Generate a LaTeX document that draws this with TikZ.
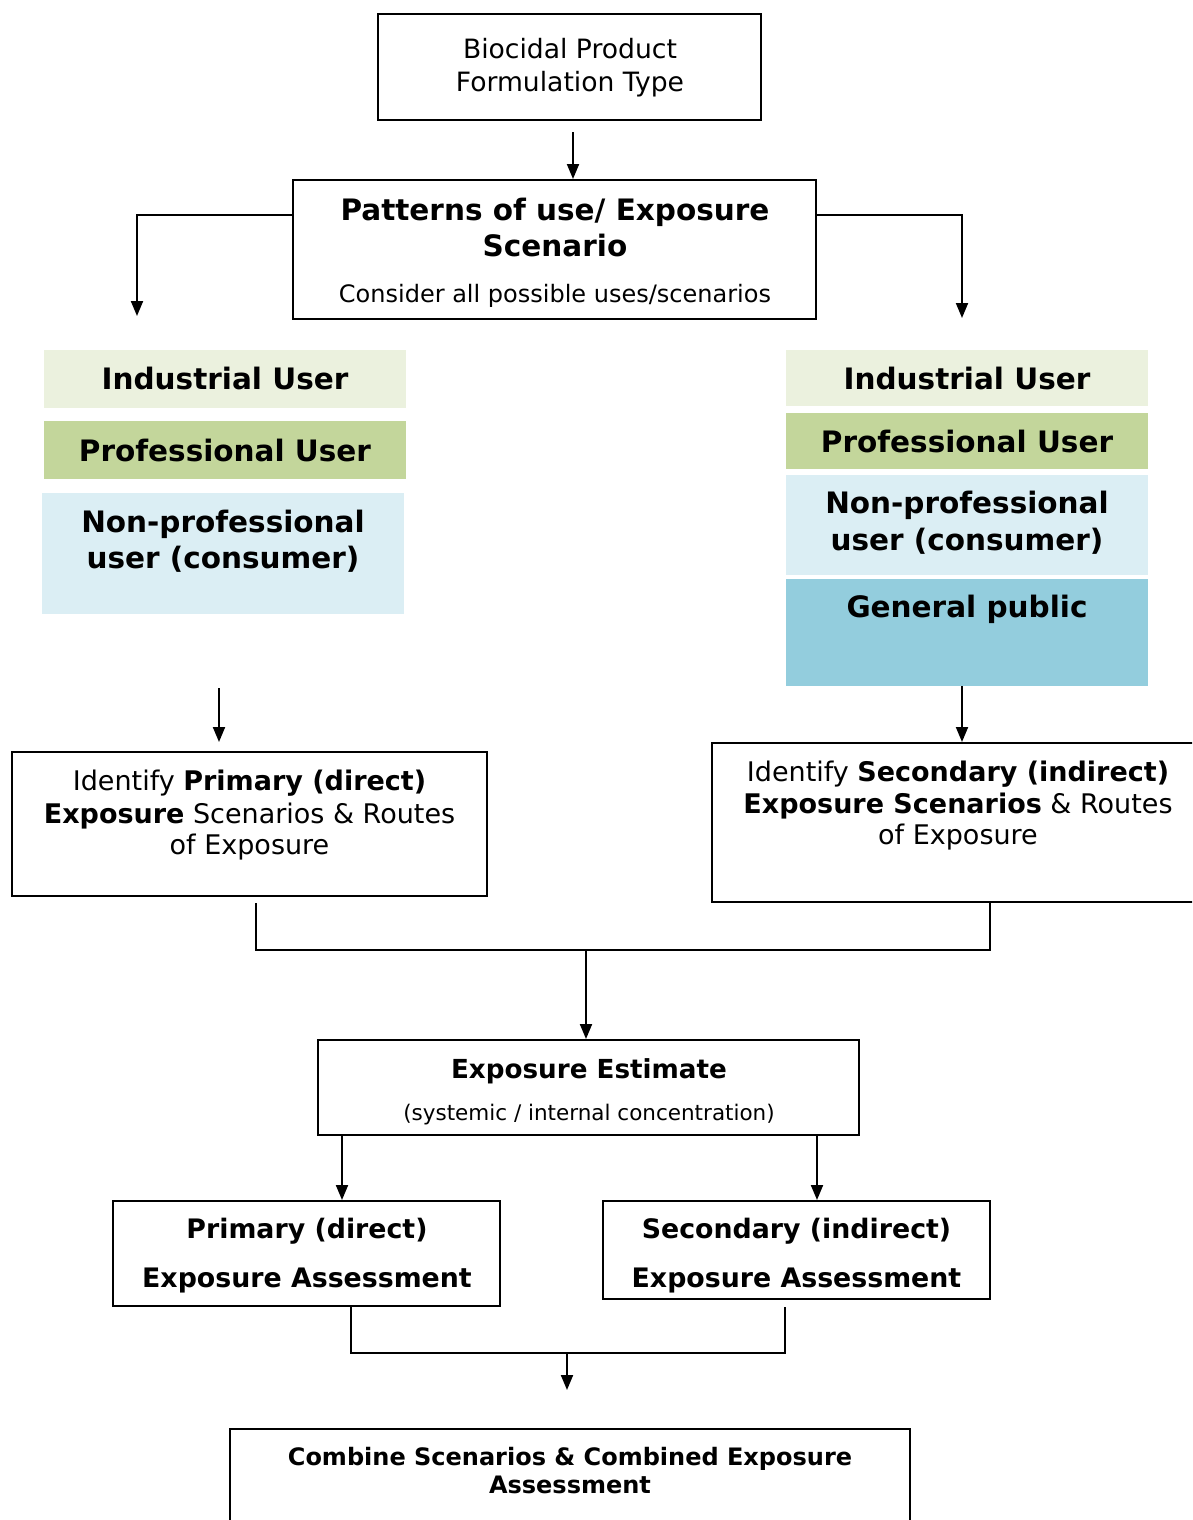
\documentclass[tikz,border=0pt]{standalone}
\usepackage{fontspec}
\setmainfont{DejaVu Sans}
\usetikzlibrary{arrows.meta}
\definecolor{indgreen}{HTML}{EBF1DE}
\definecolor{progreen}{HTML}{C3D69B}
\definecolor{nonblue}{HTML}{DBEEF4}
\definecolor{genblue}{HTML}{93CDDD}
\newcommand\myfs[1]{\fontsize{#1}{#1}\selectfont}
\begin{document}
\begin{tikzpicture}[x=1pt,y=-1pt,
  box/.style={draw=black, line width=2pt, inner sep=0pt, fill=white},
  band/.style={draw=none, inner sep=0pt},
  conn/.style={line width=2pt},
  arr/.style={conn, -{Triangle[length=15pt,width=12pt]}},
  ln/.style={anchor=base, inner sep=0pt},
  hd/.style={ln, font=\myfs{29.5}\bfseries},
  rg/.style={ln, font=\myfs{26.6}},
  idt/.style={ln, font=\myfs{27}},
]
\useasboundingbox (0,0) rectangle (1192,1520);
\clip (0,0) rectangle (1192,1520);

% boxes
\node[box, minimum width=383pt, minimum height=106pt] (b1) at (569.5,67) {};
\node[box, minimum width=523pt, minimum height=139pt] (b2) at (554.5,249.5) {};

\node[band, fill=indgreen, minimum width=362pt, minimum height=58pt] (lind) at (225,379) {};
\node[band, fill=progreen, minimum width=362pt, minimum height=58pt] (lpro) at (225,450) {};
\node[band, fill=nonblue, minimum width=362pt, minimum height=121pt] (lnon) at (223,553.5) {};

\node[band, fill=indgreen, minimum width=362pt, minimum height=56pt] (rind) at (967,378) {};
\node[band, fill=progreen, minimum width=362pt, minimum height=56pt] (rpro) at (967,441) {};
\node[band, fill=nonblue, minimum width=362pt, minimum height=100pt] (rnon) at (967,525) {};
\node[band, fill=genblue, minimum width=362pt, minimum height=107pt] (rgen) at (967,632.5) {};

\node[box, minimum width=475pt, minimum height=144pt] (idp) at (249.5,824) {};
\node[box, minimum width=538pt, minimum height=159pt] (ids) at (981,822.5) {};
\node[box, minimum width=541pt, minimum height=95pt] (est) at (588.5,1087.5) {};
\node[box, minimum width=387pt, minimum height=105pt] (pa) at (306.5,1253.5) {};
\node[box, minimum width=387pt, minimum height=98pt] (sa) at (796.5,1250) {};
\node[box, minimum width=680pt, minimum height=131pt] (comb) at (570,1494.5) {};

% texts
\node[rg] (t1a) at (570,59) {Biocidal Product};
\node[rg] (t1b) at (570,92) {Formulation Type};
\node[hd] (t2a) at (555,220) {Patterns of use/ Exposure};
\node[hd] (t2b) at (555,256) {Scenario};
\node[ln, font=\myfs{24}] (t2c) at (555,302) {Consider all possible uses/scenarios};

\node[hd] (tli) at (225,389) {Industrial User};
\node[hd] (tlp) at (225,461) {Professional User};
\node[hd] (tln1) at (223,532) {Non-professional};
\node[hd] (tln2) at (223,568) {user (consumer)};

\node[hd] (tri) at (967,389) {Industrial User};
\node[hd] (trp) at (967,452) {Professional User};
\node[hd] (trn1) at (967,513) {Non-professional};
\node[hd] (trn2) at (967,550) {user (consumer)};
\node[hd] (trg) at (967,617) {General public};

\node[idt] (tp1) at (249.5,790) {Identify \textbf{Primary (direct)}};
\node[idt] (tp2) at (249.5,823) {\textbf{Exposure} Scenarios \& Routes};
\node[idt] (tp3) at (249.5,854) {of Exposure};

\node[idt] (ts1) at (958,781) {Identify \textbf{Secondary (indirect)}};
\node[idt] (ts2) at (958,813) {\textbf{Exposure Scenarios} \& Routes};
\node[idt] (ts3) at (958,844) {of Exposure};

\node[ln, font=\myfs{26.2}\bfseries] (te1) at (589,1078) {Exposure Estimate};
\node[ln, font=\myfs{21.5}] (te2) at (589,1120) {(systemic / internal concentration)};

\node[ln, font=\myfs{26.8}\bfseries] (tpa1) at (307,1238) {Primary (direct)};
\node[ln, font=\myfs{26.8}\bfseries] (tpa2) at (307,1287) {Exposure Assessment};
\node[ln, font=\myfs{26.8}\bfseries] (tsa1) at (796.5,1238) {Secondary (indirect)};
\node[ln, font=\myfs{26.8}\bfseries] (tsa2) at (796.5,1287) {Exposure Assessment};

\node[ln, font=\myfs{24}\bfseries] (tc1) at (570,1465) {Combine Scenarios \& Combined Exposure};
\node[ln, font=\myfs{24}\bfseries] (tc2) at (570,1493) {Assessment};

% connectors
\coordinate (a1) at (573,132);
\draw[arr] (a1) -- (a1 |- b2.north);
\coordinate (lt) at (137,316);
\coordinate (rt) at (962,318);
\draw[arr] ([yshift=-36pt]b2.north west) -| (lt);
\draw[arr] ([yshift=-36pt]b2.north east) -| (rt);

\coordinate (a2) at (219,688);
\coordinate (a2e) at (219,742);
\draw[arr] (a2) -- (a2e);
\coordinate (a3) at (962,686);
\draw[arr] (a3) -- (a3 |- ids.north);

\coordinate (m1) at (256,903);
\coordinate (m2) at (990,903);
\coordinate (mj) at (586,950);
\draw[conn] (m1) |- (mj) -| (m2);
\draw[arr] (mj) -- (mj |- est.north);

\draw[arr] ([xshift=25pt]est.south west) -- ([xshift=25pt]est.south west |- pa.north);
\draw[arr] ([xshift=-43pt]est.south east) -- ([xshift=-43pt]est.south east |- sa.north);

\coordinate (n1) at (351,1306);
\coordinate (n2) at (785,1307);
\coordinate (nj) at (567,1353);
\coordinate (ne) at (567,1390);
\draw[conn] (n1) |- (nj) -| (n2);
\draw[arr] (nj) -- (ne);
\end{tikzpicture}
\end{document}
